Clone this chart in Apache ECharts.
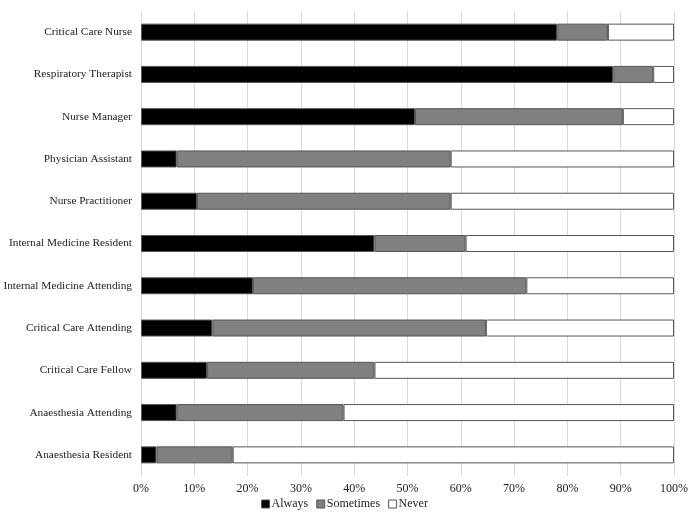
<!DOCTYPE html>
<html>
<head>
<meta charset="utf-8">
<script src="https://cdn.jsdelivr.net/npm/echarts@6/dist/echarts.min.js"></script>
<style>
  html, body { margin: 0; padding: 0; background: #fff; }
  #chart { width: 689px; height: 516px; }
</style>
</head>
<body>
<div id="chart"></div>
<script>
// roles, top to bottom
const roles = [
  'Critical Care Nurse',
  'Respiratory Therapist',
  'Nurse Manager',
  'Physician Assistant',
  'Nurse Practitioner',
  'Internal Medicine Resident',
  'Internal Medicine Attending',
  'Critical Care Attending',
  'Critical Care Fellow',
  'Anaesthesia Attending',
  'Anaesthesia Resident'
];
// percentages
const always    = [78.1, 88.6, 51.4, 6.7, 10.5, 43.8, 21.0, 13.4, 12.4, 6.7, 2.9];
const sometimes = [9.5, 7.5, 39.0, 51.4, 47.6, 17.1, 51.3, 51.3, 31.4, 31.3, 14.3];
const never     = [12.4, 3.9, 9.6, 41.9, 41.9, 39.1, 27.7, 35.3, 56.2, 62.0, 82.8];

const font = 'Liberation Serif';

const chart = echarts.init(document.getElementById('chart'));

function bar(name, data, color) {
  return {
    name: name,
    type: 'bar',
    stack: 'total',
    data: data,
    barWidth: 17,
    itemStyle: {
      color: color,
      borderColor: '#555555',
      borderWidth: 1
    }
  };
}

const option = {
  animation: false,
  textStyle: { fontFamily: font },
  grid: {
    left: 141, right: 15, top: 11, bottom: 40,
    containLabel: false,
    outerBoundsMode: 'none'
  },
  legend: {
    bottom: 1,
    left: 'center',
    itemWidth: 8,
    itemHeight: 8,
    itemGap: 8,
    icon: 'rect',
    textStyle: { fontFamily: font, fontSize: 12, color: '#222', padding: [0, 0, 0, -3] },
    data: [
      { name: 'Always', itemStyle: { borderColor: '#555', borderWidth: 1 } },
      { name: 'Sometimes', itemStyle: { borderColor: '#555', borderWidth: 1 } },
      { name: 'Never', itemStyle: { borderColor: '#555', borderWidth: 1 } }
    ]
  },
  xAxis: {
    type: 'value',
    min: 0,
    max: 100,
    interval: 10,
    axisLine: { show: false },
    axisTick: { show: false },
    axisLabel: { formatter: '{value}%', color: '#222', fontFamily: font, fontSize: 12, margin: 7 },
    splitLine: { lineStyle: { color: '#d9d9d9' } }
  },
  yAxis: {
    type: 'category',
    inverse: true,
    data: roles,
    axisLine: { show: true, lineStyle: { color: '#d9d9d9' } },
    axisTick: { show: false },
    axisLabel: { color: '#222', fontFamily: font, fontSize: 11.3, margin: 9 }
  },
  series: [
    bar('Always', always, '#000000'),
    bar('Sometimes', sometimes, '#808080'),
    bar('Never', never, '#ffffff')
  ]
};

chart.setOption(option);
</script>
</body>
</html>
